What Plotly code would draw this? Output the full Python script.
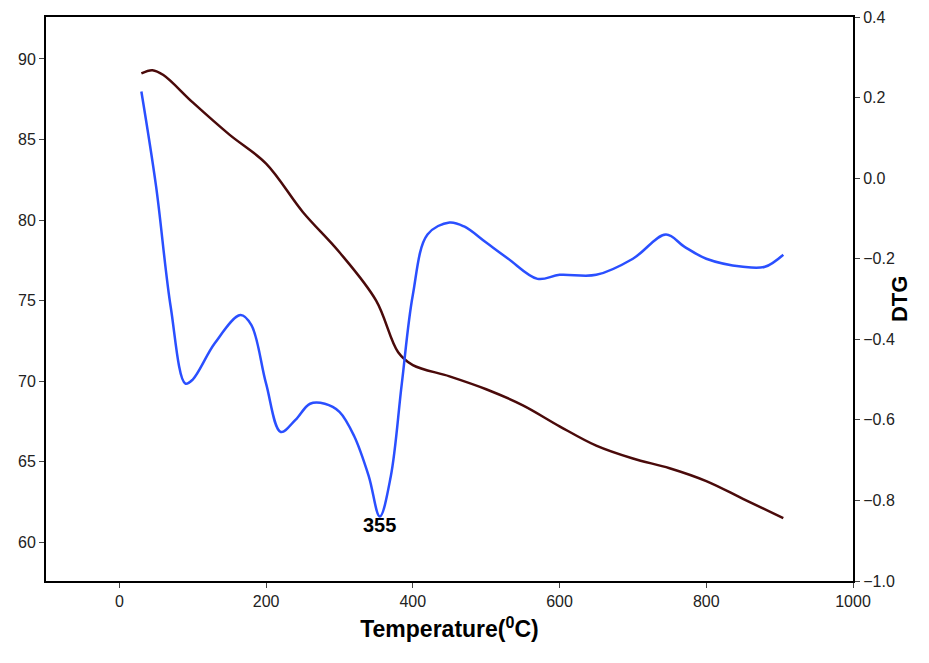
import plotly.graph_objects as go

tg_x = [30, 45, 60, 100, 150, 200, 250, 300, 350, 380, 400, 450, 500, 550, 600, 650, 700, 750, 800, 850, 905]
tg_y = [89.1, 89.3, 89.0, 87.3, 85.3, 83.5, 80.5, 78.0, 75.0, 71.8, 71.0, 70.3, 69.5, 68.5, 67.2, 66.0, 65.2, 64.6, 63.8, 62.7, 61.5]

dtg_x = [30, 50, 70, 90, 100, 130, 165, 180, 200, 220, 240, 260, 280, 300, 320, 340, 355, 370, 385, 400, 420, 450, 470, 500, 530, 570, 600, 650, 700, 745, 770, 800, 850, 880, 905]
dtg_y = [0.215, -0.02, -0.32, -0.51, -0.50, -0.41, -0.34, -0.365, -0.51, -0.63, -0.60, -0.56, -0.56, -0.58, -0.64, -0.74, -0.84, -0.74, -0.51, -0.29, -0.14, -0.11, -0.12, -0.16, -0.20, -0.25, -0.24, -0.24, -0.20, -0.14, -0.17, -0.20, -0.22, -0.22, -0.19]

fig = go.Figure()
fig.add_trace(go.Scatter(x=tg_x, y=tg_y, mode="lines", line=dict(color="#4a0a0a", width=2.5, shape="spline"), yaxis="y"))
fig.add_trace(go.Scatter(x=dtg_x, y=dtg_y, mode="lines", line=dict(color="#2a4fff", width=2.5, shape="spline"), yaxis="y2"))
fig.add_annotation(x=355, y=-0.86, xref="x", yref="y2", text="<b>355</b>", showarrow=False,
                   font=dict(size=20, color="black", family="Arial"))
fig.add_annotation(x=1.075, y=0.5, xref="paper", yref="paper", text="<b>DTG</b>", textangle=-90,
                   showarrow=False, font=dict(size=22, color="black", family="Arial"))

fig.update_layout(
    width=929, height=663, showlegend=False, plot_bgcolor="white", paper_bgcolor="white",
    margin=dict(l=38, r=84, t=9, b=90, autoexpand=False),
    font=dict(family="Arial", size=16, color="#222"),
    xaxis=dict(range=[-100, 1000], tickvals=[0, 200, 400, 600, 800, 1000], ticks="outside", automargin=False,
               showline=True, linecolor="black", linewidth=2, mirror=True, showgrid=False, zeroline=False,
               title=dict(text="<b>Temperature(<sup>0</sup>C)</b>", font=dict(size=23, color="black"), standoff=12)),
    yaxis=dict(range=[57.6, 92.6], tickvals=[60, 65, 70, 75, 80, 85, 90], ticks="outside", automargin=False,
               showline=True, linecolor="black", linewidth=2, showgrid=False, zeroline=False),
    yaxis2=dict(range=[-1.0, 0.4], tickvals=[-1.0, -0.8, -0.6, -0.4, -0.2, 0.0, 0.2, 0.4], tickformat=".1f",
                ticks="outside", overlaying="y", side="right", showline=True, linecolor="black", linewidth=2,
                ticklabeloverflow="allow", automargin=False, showgrid=False, zeroline=False),
)
fig.write_html("out.html")
